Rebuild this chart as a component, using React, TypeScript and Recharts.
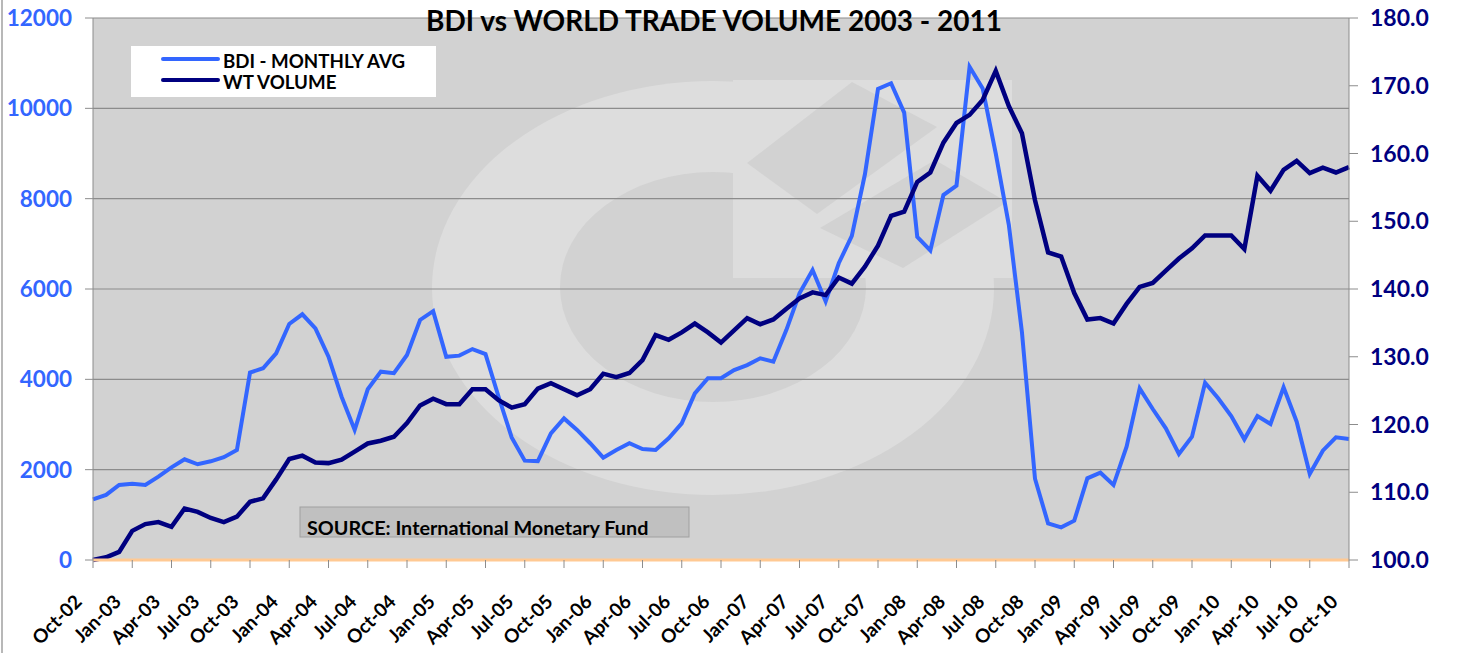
import React from "react";
import { LineChart, Line, XAxis, YAxis, CartesianGrid } from "recharts";

const months: string[] = [
  "Oct-02", "Nov-02", "Dec-02",
  "Jan-03", "Feb-03", "Mar-03", "Apr-03", "May-03", "Jun-03", "Jul-03", "Aug-03", "Sep-03", "Oct-03", "Nov-03", "Dec-03",
  "Jan-04", "Feb-04", "Mar-04", "Apr-04", "May-04", "Jun-04", "Jul-04", "Aug-04", "Sep-04", "Oct-04", "Nov-04", "Dec-04",
  "Jan-05", "Feb-05", "Mar-05", "Apr-05", "May-05", "Jun-05", "Jul-05", "Aug-05", "Sep-05", "Oct-05", "Nov-05", "Dec-05",
  "Jan-06", "Feb-06", "Mar-06", "Apr-06", "May-06", "Jun-06", "Jul-06", "Aug-06", "Sep-06", "Oct-06", "Nov-06", "Dec-06",
  "Jan-07", "Feb-07", "Mar-07", "Apr-07", "May-07", "Jun-07", "Jul-07", "Aug-07", "Sep-07", "Oct-07", "Nov-07", "Dec-07",
  "Jan-08", "Feb-08", "Mar-08", "Apr-08", "May-08", "Jun-08", "Jul-08", "Aug-08", "Sep-08", "Oct-08", "Nov-08", "Dec-08",
  "Jan-09", "Feb-09", "Mar-09", "Apr-09", "May-09", "Jun-09", "Jul-09", "Aug-09", "Sep-09", "Oct-09", "Nov-09", "Dec-09",
  "Jan-10", "Feb-10", "Mar-10", "Apr-10", "May-10", "Jun-10", "Jul-10", "Aug-10", "Sep-10", "Oct-10",
];

const bdiMonthlyAvg: number[] = [
  1340, 1440, 1660, 1690, 1660, 1845, 2050, 2230, 2120, 2185, 2275, 2435,
  4150, 4245, 4575, 5225, 5440, 5130, 4500, 3615, 2880, 3780, 4170, 4135,
  4540, 5315, 5510, 4500, 4525, 4670, 4560, 3615, 2715, 2200, 2190, 2805,
  3135, 2880, 2585, 2265, 2435, 2585, 2455, 2435, 2695, 3025, 3690, 4025,
  4025, 4205, 4315, 4465, 4390, 5095, 5905, 6420, 5725, 6570, 7175, 8540,
  10430, 10555, 9905, 7155, 6855, 8080, 8290, 10920, 10440, 9000, 7420, 5050,
  1800, 812, 723, 871, 1808, 1933, 1660, 2509, 3801, 3343, 2915, 2347,
  2730, 3925, 3580, 3188, 2672, 3188, 3011, 3823, 3062, 1904, 2420, 2716,
  2679,
];

const wtVolume: number[] = [
  100.0, 100.4, 101.2, 104.3, 105.3, 105.6, 104.9, 107.6, 107.1, 106.2, 105.6, 106.4,
  108.6, 109.1, 111.9, 114.9, 115.4, 114.4, 114.3, 114.8, 116.0, 117.2, 117.6, 118.2,
  120.2, 122.8, 123.8, 123.0, 123.0, 125.2, 125.2, 123.6, 122.5, 123.0, 125.3, 126.1,
  125.2, 124.3, 125.2, 127.5, 127.0, 127.6, 129.5, 133.2, 132.5, 133.6, 134.9, 133.6,
  132.1, 133.9, 135.7, 134.8, 135.5, 137.1, 138.6, 139.5, 139.1, 141.7, 140.8, 143.3,
  146.4, 150.8, 151.4, 155.8, 157.2, 161.6, 164.5, 165.7, 167.9, 172.2, 167.0, 163.0,
  153.1, 145.4, 144.8, 139.4, 135.5, 135.7, 134.9, 137.8, 140.3, 140.9, 142.7, 144.5,
  146.0, 147.9, 147.9, 147.9, 145.9, 156.7, 154.5, 157.6, 158.9, 157.1, 157.9, 157.2,
  158.0,
];

const leftTicks: number[] = [0, 2000, 4000, 6000, 8000, 10000, 12000];
const rightTicks: number[] = [100, 110, 120, 130, 140, 150, 160, 170, 180];

const TITLE = "BDI vs WORLD TRADE VOLUME 2003 - 2011";
const SERIES_BDI = "BDI - MONTHLY AVG";
const SERIES_WT = "WT VOLUME";
const SOURCE = "SOURCE: International Monetary Fund";

const data = months.map((m, i) => ({ month: m, bdi: bdiMonthlyAvg[i], wt: wtVolume[i] }));

const FONT = "Lato, 'Open Sans', sans-serif";
const BDI_COLOR = "#3366FF";
const WT_COLOR = "#000080";

const XTick = (props: any) => {
  const { x, y, payload } = props;
  const ax = x - 10;
  const ay = y + 33;
  return (
    <text
      x={ax}
      y={ay}
      textAnchor="end"
      transform={`rotate(-45, ${ax}, ${ay})`}
      fontFamily={FONT}
      fontWeight={700}
      fontSize={19}
      fill="#000"
    >
      {payload.value}
    </text>
  );
};

export default function App() {
  return (
    <div style={{ position: "absolute", left: 0, top: 0, width: 1457, height: 653, background: "#fff" }}>
      <svg width={1457} height={653} style={{ position: "absolute", left: 0, top: 0 }}>
        <line x1={2} y1={0} x2={2} y2={653} stroke="#a0a0a0" strokeWidth={1.5} />
        <rect x={93} y={18} width={1256} height={542} fill="#d2d2d2" />
        <ellipse cx={713} cy={288} rx={281} ry={207} fill="#dddddd" />
        <ellipse cx={713} cy={287} rx={153} ry={115} fill="#d2d2d2" />
        <rect x={733} y={80} width={279} height={198} fill="#dddddd" />
        <polygon points="747,163 852,82 937,127 817,214" fill="#d2d2d2" />
        <polygon points="820,228 935,160 1007,202 903,268" fill="#d2d2d2" />
        <rect x={710} y={82} width={23} height={90} fill="#dddddd" />
      </svg>
      <div style={{ position: "absolute", left: 0, top: 0 }}>
        <LineChart width={1457} height={653} data={data} margin={{ top: 18, right: 8, bottom: 13, left: 13 }}>
          <CartesianGrid yAxisId="left" vertical={false} stroke="#8c8c8c" strokeWidth={1.2} />
          <XAxis
            dataKey="month"
            interval={2}
            tickSize={8}
            height={80}
            tick={<XTick />}
            axisLine={{ stroke: "#FFC993", strokeWidth: 3 }}
            tickLine={{ stroke: "#8c8c8c" }}
          />
          <YAxis
            yAxisId="left"
            domain={[0, 12000]}
            ticks={leftTicks}
            width={80}
            tickSize={8}
            tickMargin={13}
            interval={0}
            axisLine={{ stroke: "#8c8c8c" }}
            tickLine={{ stroke: "#8c8c8c" }}
            tick={{ fontFamily: FONT, fontWeight: 700, fontSize: 22.5, fill: BDI_COLOR }}
          />
          <YAxis
            yAxisId="right"
            orientation="right"
            domain={[100, 180]}
            ticks={rightTicks}
            width={100}
            tickSize={9}
            tickMargin={12}
            interval={0}
            tickFormatter={(v: number) => v.toFixed(1)}
            axisLine={{ stroke: "#8c8c8c" }}
            tickLine={{ stroke: "#8c8c8c" }}
            tick={{ fontFamily: FONT, fontWeight: 700, fontSize: 23, fill: WT_COLOR }}
          />
          <Line yAxisId="left" type="linear" dataKey="bdi" stroke={BDI_COLOR} strokeWidth={4} dot={false} isAnimationActive={false} />
          <Line yAxisId="right" type="linear" dataKey="wt" stroke={WT_COLOR} strokeWidth={4.5} dot={false} isAnimationActive={false} />
        </LineChart>
      </div>
      <svg width={1457} height={653} style={{ position: "absolute", left: 0, top: 0, pointerEvents: "none" }}>
        <text x={714} y={31} textAnchor="middle" fontFamily={FONT} fontWeight={700} fontSize={28} fill="#000">
          {TITLE}
        </text>
        <rect x={131} y={46} width={305} height={51} fill="#fff" />
        <line x1={163} y1={59} x2={218} y2={59} stroke={BDI_COLOR} strokeWidth={4} strokeLinecap="round" />
        <line x1={163} y1={80} x2={218} y2={80} stroke={WT_COLOR} strokeWidth={4} strokeLinecap="round" />
        <text x={223} y={68} fontFamily={FONT} fontWeight={700} fontSize={18.7} fill="#000">{SERIES_BDI}</text>
        <text x={223} y={89} fontFamily={FONT} fontWeight={700} fontSize={18.7} fill="#000">{SERIES_WT}</text>
        <rect x={300} y={507} width={389} height={30} fill="#c0c0c0" stroke="#a0a0a0" strokeWidth={1} />
        <text x={307} y={535} fontFamily={FONT} fontWeight={700} fontSize={19.8} fill="#000">{SOURCE}</text>
      </svg>
    </div>
  );
}
